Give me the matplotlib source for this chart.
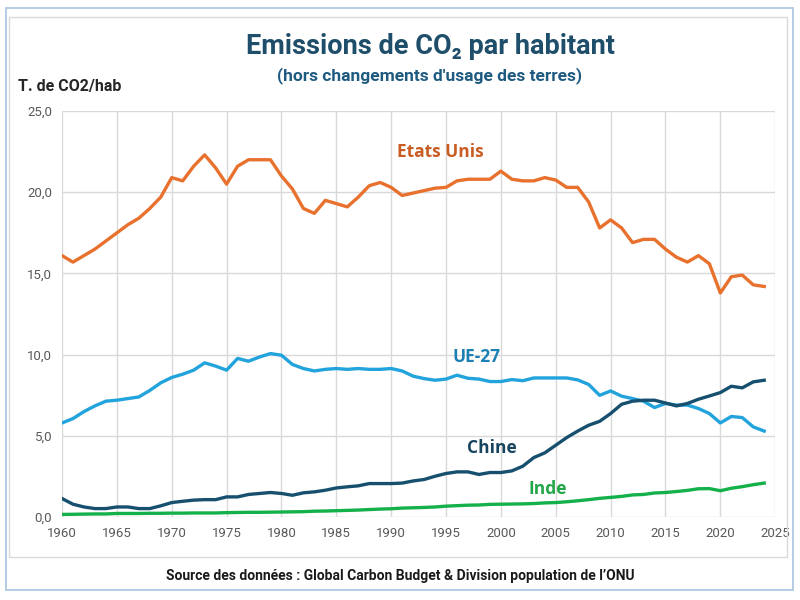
import matplotlib
matplotlib.use("Agg")
import matplotlib.pyplot as plt
from matplotlib.patches import Rectangle
from matplotlib.ticker import FuncFormatter

years = list(range(1960, 2025))

etats_unis = [16.1, 15.7, 16.1, 16.5, 17.0, 17.5, 18.0, 18.4, 19.0, 19.7,
              20.9, 20.7, 21.6, 22.3, 21.5, 20.5, 21.6, 22.0, 22.0, 22.0,
              21.0, 20.2, 19.0, 18.7, 19.5, 19.3, 19.1, 19.7, 20.4, 20.6,
              20.3, 19.8, 19.95, 20.1, 20.25, 20.3, 20.7, 20.8, 20.8, 20.8,
              21.3, 20.8, 20.7, 20.7, 20.9, 20.75, 20.3, 20.3, 19.4, 17.8,
              18.3, 17.8, 16.9, 17.1, 17.1, 16.5, 16.0, 15.7, 16.1, 15.6,
              13.8, 14.8, 14.9, 14.3, 14.2]

ue27 = [5.8, 6.07, 6.5, 6.85, 7.14, 7.2, 7.3, 7.4, 7.8, 8.27,
        8.6, 8.8, 9.05, 9.5, 9.3, 9.05, 9.77, 9.6, 9.86, 10.07,
        9.97, 9.4, 9.15, 9.0, 9.1, 9.15, 9.1, 9.15, 9.1, 9.1,
        9.15, 9.0, 8.68, 8.53, 8.43, 8.5, 8.74, 8.55, 8.5, 8.35,
        8.35, 8.47, 8.4, 8.57, 8.57, 8.57, 8.57, 8.45, 8.17, 7.5,
        7.77, 7.45, 7.3, 7.14, 6.75, 7.0, 6.9, 6.9, 6.69, 6.38,
        5.8, 6.2, 6.13, 5.56, 5.3]

chine = [1.15, 0.8, 0.63, 0.53, 0.53, 0.63, 0.63, 0.53, 0.53, 0.7,
         0.9, 0.98, 1.05, 1.08, 1.08, 1.25, 1.25, 1.4, 1.46, 1.52,
         1.46, 1.35, 1.5, 1.56, 1.66, 1.8, 1.87, 1.93, 2.07, 2.07,
         2.07, 2.1, 2.23, 2.32, 2.52, 2.69, 2.79, 2.79, 2.63, 2.75,
         2.75, 2.85, 3.14, 3.67, 3.96, 4.43, 4.9, 5.3, 5.66, 5.9,
         6.38, 6.95, 7.14, 7.2, 7.2, 7.03, 6.85, 7.0, 7.26, 7.46,
         7.67, 8.06, 7.96, 8.33, 8.43]

inde = [0.17, 0.18, 0.19, 0.20, 0.20, 0.23, 0.23, 0.23, 0.24, 0.24,
        0.25, 0.25, 0.26, 0.26, 0.26, 0.28, 0.29, 0.30, 0.30, 0.31,
        0.32, 0.33, 0.34, 0.37, 0.38, 0.40, 0.42, 0.44, 0.47, 0.50,
        0.52, 0.56, 0.58, 0.60, 0.63, 0.68, 0.71, 0.74, 0.75, 0.79,
        0.80, 0.81, 0.82, 0.84, 0.88, 0.90, 0.95, 1.01, 1.08, 1.16,
        1.22, 1.28, 1.37, 1.40, 1.49, 1.52, 1.58, 1.65, 1.75, 1.76,
        1.63, 1.78, 1.88, 2.0, 2.1]

narrow = ["Roboto", "DejaVu Sans"]
bold_lab = ["Open Sans", "DejaVu Sans"]

fig = plt.figure(figsize=(8, 6), dpi=100)
ax = fig.add_axes([0.0775, 0.138, 0.8915, 0.677])

# frames around the chart
fig.patches.append(Rectangle((6 / 800, 10 / 600), 787 / 800, 582 / 600,
                             transform=fig.transFigure, fill=False,
                             edgecolor="#A8C3DF", linewidth=1.2))
fig.patches.append(Rectangle((9 / 800, 43 / 600), 778 / 800, 540 / 600,
                             transform=fig.transFigure, fill=False,
                             edgecolor="#DADADA", linewidth=1.0))

lw = 2.4
ax.plot(years, etats_unis, color="#E8712D", lw=lw)
ax.plot(years, ue27, color="#22A3DC", lw=lw)
ax.plot(years, chine, color="#17506F", lw=lw)
ax.plot(years, inde, color="#14B04A", lw=lw)

ax.text(1994.5, 22.5, "Etats Unis", color="#C95C22", fontsize=12.5,
        fontweight="bold", family=bold_lab, ha="center", va="center")
ax.text(1997.8, 9.85, "UE-27", color="#1C80B5", fontsize=12.5,
        fontweight="bold", family=bold_lab, ha="center", va="center")
ax.text(1999.2, 4.25, "Chine", color="#17455F", fontsize=12.5,
        fontweight="bold", family=bold_lab, ha="center", va="center")
ax.text(2004.3, 1.72, "Inde", color="#22A64A", fontsize=12.5,
        fontweight="bold", family=bold_lab, ha="center", va="center")

ax.set_xlim(1960, 2025)
ax.set_ylim(0, 25)
ax.set_xticks(range(1960, 2026, 5))
ax.set_yticks(range(0, 26, 5))
ax.yaxis.set_major_formatter(FuncFormatter(lambda v, p: f"{v:.1f}".replace(".", ",")))
ax.grid(True, color="#D9D9D9", linewidth=1.0)
ax.set_axisbelow(True)
for s in ax.spines.values():
    s.set_visible(False)
ax.tick_params(length=0, colors="#595959", labelsize=9.5, pad=7)
for lab in ax.get_xticklabels() + ax.get_yticklabels():
    lab.set_family(narrow)

fig.text(0.5375, 0.922, "Emissions de CO\u2082 par habitant", ha="center", va="center",
         fontsize=19.5, fontweight="bold", color="#1F4E6B", family=narrow)
fig.text(0.5375, 0.874, "(hors changements d'usage des terres)", ha="center", va="center",
         fontsize=12.5, fontweight="bold", color="#1F5A80", family=narrow)
fig.text(0.022, 0.855, "T. de CO2/hab", ha="left", va="center",
         fontsize=11.5, fontweight="bold", color="#262626", family=narrow)
fig.text(0.5, 0.04, "Source des données : Global Carbon Budget & Division population de l\u2019ONU",
         ha="center", va="center", fontsize=10, fontweight="bold", color="#1A1A1A", family=narrow)

fig.savefig("out.png", dpi=100)
